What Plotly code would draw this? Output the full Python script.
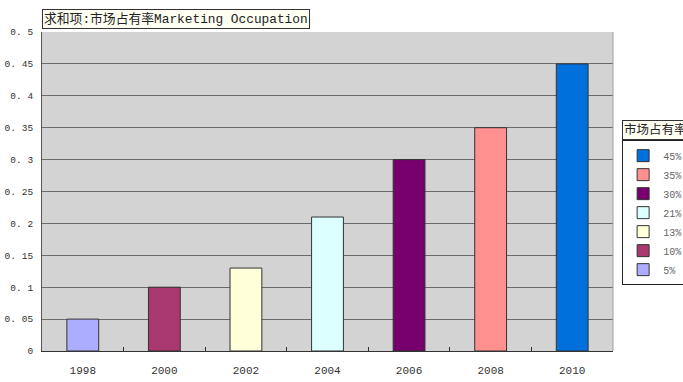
import plotly.graph_objects as go

years = ["1998", "2000", "2002", "2004", "2006", "2008", "2010"]
shares = [0.05, 0.10, 0.13, 0.21, 0.30, 0.35, 0.45]
legend_names = ["5%", "10%", "13%", "21%", "30%", "35%", "45%"]
colors = ["#adadff", "#a8386f", "#ffffd9", "#dcffff", "#77006e", "#ff9090", "#0070dd"]
y_ticks = [0, 0.05, 0.1, 0.15, 0.2, 0.25, 0.3, 0.35, 0.4, 0.45, 0.5]
y_tick_text = ["0", "0. 05", "0. 1", "0. 15", "0. 2", "0. 25", "0. 3", "0. 35", "0. 4", "0. 45", "0. 5"]

FONT = "Liberation Mono, Noto Sans CJK SC, monospace"

fig = go.Figure()
for yr, v, nm, c in zip(years, shares, legend_names, colors):
    fig.add_trace(go.Bar(
        x=[yr], y=[v], name=nm, width=0.39,
        marker=dict(color=c, line=dict(color="#333333", width=1)),
    ))

fig.update_layout(
    width=683, height=382,
    margin=dict(l=42, r=70, t=32, b=31, autoexpand=False),
    paper_bgcolor="white",
    plot_bgcolor="#d3d3d3",
    barmode="overlay",
    font=dict(family=FONT, size=12, color="#333333"),
    showlegend=True,
    legend=dict(
        x=1.016, y=0.661, xanchor="left", yanchor="top",
        bgcolor="white", bordercolor="#222222", borderwidth=1,
        traceorder="reversed",
        font=dict(family=FONT, size=10, color="#666666"),
        itemwidth=30, tracegroupgap=0,
    ),
    annotations=[
        dict(text="求和项:市场占有率Marketing Occupation", xref="paper", yref="paper",
             x=0, y=1.01, xanchor="left", yanchor="bottom", showarrow=False,
             font=dict(family=FONT, size=12.8, color="#222222"),
             bgcolor="#fffff4", bordercolor="#333333", borderwidth=1, borderpad=1),
        dict(text="市场占有率", xref="paper", yref="paper",
             x=1.016, y=0.661, xanchor="left", yanchor="bottom", showarrow=False,
             font=dict(family=FONT, size=12.5, color="#222222"),
             bgcolor="#fffff4", bordercolor="#333333", borderwidth=1, borderpad=1),
    ],
    shapes=[
        dict(type="line", xref="paper", yref="paper", x0=1, x1=1, y0=0, y1=1,
             line=dict(color="#a0a0a0", width=1)),
    ],
)

fig.update_xaxes(
    type="category", showline=True, linecolor="#333333", linewidth=1,
    ticks="inside", tickson="boundaries", ticklen=4, tickcolor="#333333",
    showgrid=False, ticklabelstandoff=9, automargin=False,
    tickfont=dict(family=FONT, size=11, color="#333333"),
)
fig.update_yaxes(
    range=[0, 0.5], tickvals=y_ticks, ticktext=y_tick_text,
    showline=True, linecolor="#555555", linewidth=1,
    showgrid=True, gridcolor="#6a6a6a", gridwidth=1,
    ticks="", ticklabelstandoff=6, zeroline=False, automargin=False,
    tickfont=dict(family=FONT, size=9.5, color="#333333"),
)

fig.write_html("out.html", config={"displayModeBar": False},
               post_script="document.body.style.margin='0';")
